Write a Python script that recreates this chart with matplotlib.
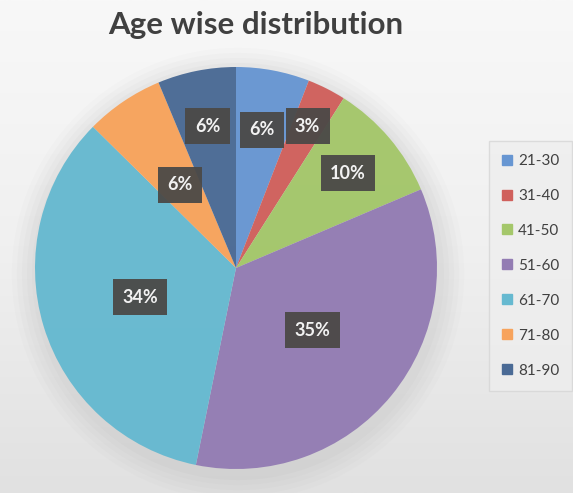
import matplotlib.pyplot as plt
import matplotlib.patches as mpatches
from matplotlib.colors import LinearSegmentedColormap
from matplotlib.lines import Line2D
import numpy as np

# data (percent of respondents)
age_groups = ["21-30", "31-40", "41-50", "51-60", "61-70", "71-80", "81-90"]
shares = [5.9, 3.1, 9.6, 34.6, 34.2, 6.3, 6.3]
colors = ["#6796D2", "#D0605C", "#A4C76A", "#937CB3", "#66B9D0", "#F7A35C", "#4A6A95"]

# radial position of each data label (fraction of radius)
label_r = [0.70, 0.79, 0.73, 0.49, 0.50, 0.50, 0.72]

plt.rcParams["font.family"] = ["Lato", "DejaVu Sans"]

fig = plt.figure(figsize=(5.73, 4.93), dpi=100)
W, H = 573, 493

# background gradient
bg = fig.add_axes([0, 0, 1, 1], zorder=-10)
grad = np.linspace(0, 1, 256).reshape(-1, 1)
bg.imshow(grad, aspect="auto", extent=[0, 1, 0, 1],
          cmap=LinearSegmentedColormap.from_list("bg", ["#f8f8f8", "#f0f0f0", "#e1e1e1"]))
bg.axis("off")

fig.text(256 / W, 1 - 25 / H, "Age wise distribution", ha="center", va="center",
         fontsize=22.5, fontweight="bold", color="#404040")

cx, cy, rad = 236, 268, 201
ax = fig.add_axes([(cx - rad) / W, 1 - (cy + rad) / H, 2 * rad / W, 2 * rad / H])

# soft shadow under the pie
for k, a in enumerate([0.05, 0.05, 0.04, 0.04, 0.03]):
    ax.add_patch(mpatches.Circle((0.01, -0.03), 1.0 + 0.025 * (k + 1),
                                 color="#9a9a9a", alpha=a, lw=0, zorder=0, clip_on=False))

wedges, _ = ax.pie(shares, colors=colors, startangle=90, counterclock=False,
                   radius=1.0, wedgeprops=dict(linewidth=0, alpha=0.97))
for w in wedges:
    w.set_zorder(2)

for w, val, r in zip(wedges, shares, label_r):
    mid = np.deg2rad((w.theta1 + w.theta2) / 2)
    x, y = r * np.cos(mid), r * np.sin(mid)
    ax.text(x, y, f"{val:.0f}%", ha="center", va="center", fontsize=13,
            fontweight="bold", color="#f2f2f2", zorder=5,
            bbox=dict(boxstyle="square,pad=0.52", facecolor="#4b4947",
                      edgecolor="none", alpha=0.95))

ax.set_xlim(-1.0, 1.0)
ax.set_ylim(-1.0, 1.0)
ax.set_aspect("equal")
ax.axis("off")

handles = [Line2D([], [], marker="s", linestyle="none", markersize=7,
                  markerfacecolor=c, markeredgecolor=c) for c in colors]
leg = fig.legend(handles, age_groups, loc="upper left",
                 bbox_to_anchor=(489 / W, 1 - 141 / H), fontsize=11,
                 frameon=True, fancybox=False, handlelength=0.7, handletextpad=0.35,
                 labelspacing=1.37, borderpad=0.85, borderaxespad=0)
for t in leg.get_texts():
    t.set_color("#404040")
leg.get_frame().set_facecolor("#eeeeee")
leg.get_frame().set_edgecolor("#d6d6d6")
leg.get_frame().set_linewidth(1.0)

fig.savefig("out.png", dpi=100, facecolor=fig.get_facecolor())
